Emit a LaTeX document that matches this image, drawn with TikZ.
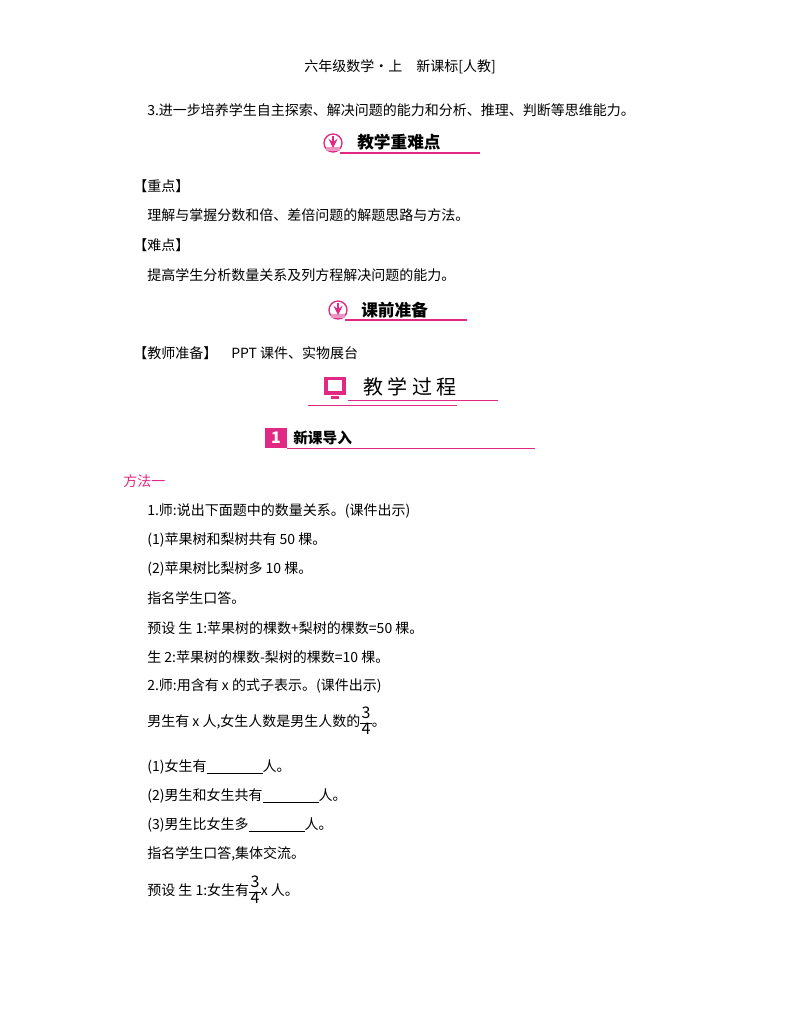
\documentclass[tikz,border=0pt]{standalone}
\usepackage{fontspec}
\setmainfont{Noto Sans CJK SC}
\definecolor{pk}{RGB}{225,40,130}
\definecolor{pkl}{RGB}{235,150,195}
\newcommand{\bigfr}[2]{\raisebox{-0.05em}{\fontsize{12pt}{13pt}\selectfont\setlength{\tabcolsep}{1pt}\renewcommand{\arraystretch}{0.85}\begin{tabular}{c}#1\\\hline #2\end{tabular}}}
\begin{document}
\begin{tikzpicture}[x=0.75pt,y=-0.75pt,
 body/.style={anchor=west,inner sep=0pt,font=\fontsize{10.5pt}{12pt}\selectfont},
 head/.style={anchor=west,inner sep=0pt,font=\fontsize{12.5pt}{14pt}\selectfont\bfseries}]
\useasboundingbox (0,0) rectangle (800,1028);
\node[inner sep=0pt,font=\fontsize{10.5pt}{12pt}\selectfont] (t) at (400,67) {六年级数学·上\quad 新课标[人教]};
\node[body] (l1) at (147,110) {3.进一步培养学生自主探索、解决问题的能力和分析、推理、判断等思维能力。};
% header 1
\draw[pk,line width=1pt] (340,153) -- (480,153);
\draw[pk,line width=1pt,fill=white] (333,143) circle (9);
\fill[pkl] (326,147) rectangle (340,151);
\draw[pk,line width=2pt,-stealth] (333,136) -- (333,148);
\node[head] (h1) at (357,142) {教学重难点};
\node[body] (a1) at (133,186) {【重点】};
\node[body] (a2) at (147,215) {理解与掌握分数和倍、差倍问题的解题思路与方法。};
\node[body] (a3) at (133,245) {【难点】};
\node[body] (a4) at (147,275) {提高学生分析数量关系及列方程解决问题的能力。};
% header 2
\draw[pk,line width=1pt] (345,320) -- (467,320);
\draw[pk,line width=1pt,fill=white] (338,310) circle (9);
\fill[pkl] (331,314) rectangle (345,318);
\draw[pk,line width=2pt,-stealth] (338,303) -- (338,315);
\node[head] (h2) at (361,310) {课前准备};
\node[body] (a5) at (133,353) {【教师准备】\quad PPT 课件、实物展台};
% header 3
\fill[pk] (324,377) rectangle (346,395);
\fill[white] (328,380) rectangle (342,391);
\fill[pk] (331,396) rectangle (339,399);
\draw[pk] (348,400) -- (498,400);
\draw[pk] (308,405) -- (457,405);
\node[anchor=west,inner sep=0pt,font=\fontsize{15pt}{17pt}\selectfont] (h3) at (363,387) {教\ 学\ 过\ 程};
% header 4
\fill[pk] (265,428) rectangle (287,448);
\node[text=white,font=\bfseries\itshape\fontsize{12pt}{12pt}\selectfont,inner sep=0pt] (n1) at (276,438) {1};
\draw[pk] (287,448) -- (535,448);
\node[head,font=\fontsize{11pt}{13pt}\selectfont\bfseries] (h4) at (293,438) {新课导入};
\node[body,text=pk] (m) at (123,481) {方法一};
\node[body] (b1) at (147,511) {1.师:说出下面题中的数量关系。(课件出示)};
\node[body] (b2) at (147,540) {(1)苹果树和梨树共有 50 棵。};
\node[body] (b3) at (147,569) {(2)苹果树比梨树多 10 棵。};
\node[body] (b4) at (147,598) {指名学生口答。};
\node[body] (b5) at (147,628) {预设\ 生 1:苹果树的棵数+梨树的棵数=50 棵。};
\node[body] (b6) at (147,657) {生 2:苹果树的棵数-梨树的棵数=10 棵。};
\node[body] (b7) at (147,686) {2.师:用含有 x 的式子表示。(课件出示)};
\node[body] (b8) at (147,723) {男生有 x 人,女生人数是男生人数的\bigfr{3}{4}。};
\node[body] (c1) at (147,767) {(1)女生有\underline{\hspace{4em}}人。};
\node[body] (c2) at (147,796) {(2)男生和女生共有\underline{\hspace{4em}}人。};
\node[body] (c3) at (147,825) {(3)男生比女生多\underline{\hspace{4em}}人。};
\node[body] (c4) at (147,854) {指名学生口答,集体交流。};
\node[body] (c5) at (147,892) {预设\ 生 1:女生有\bigfr{3}{4}x 人。};
\end{tikzpicture}
\end{document}
